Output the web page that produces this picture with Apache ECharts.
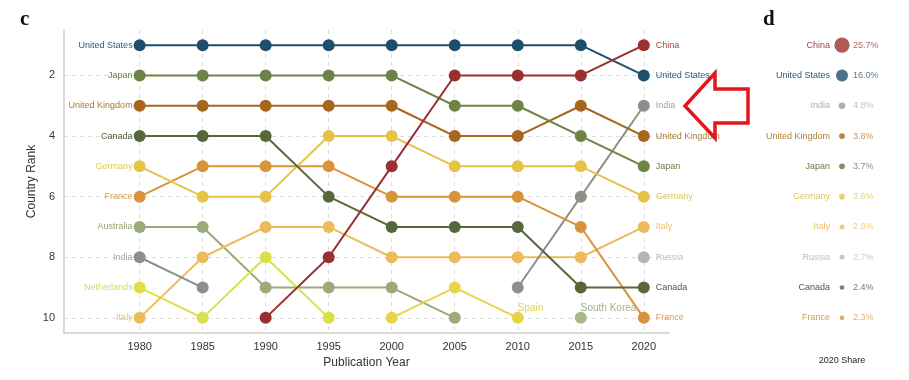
<!DOCTYPE html>
<html><head><meta charset="utf-8">
<script src="https://cdn.jsdelivr.net/npm/echarts@6/dist/echarts.min.js"></script>
<style>html,body{margin:0;padding:0;background:#fff}#c{width:909px;height:380px}</style>
</head><body><div id="c"></div>
<script>
// ---- data ----
const years = [1980, 1985, 1990, 1995, 2000, 2005, 2010, 2015, 2020];
const rankUnitedStates  = [1, 1, 1, 1, 1, 1, 1, 1, 2];
const rankJapan         = [2, 2, 2, 2, 2, 3, 3, 4, 5];
const rankUnitedKingdom = [3, 3, 3, 3, 3, 4, 4, 3, 4];
const rankCanada        = [4, 4, 4, 6, 7, 7, 7, 9, 9];
const rankGermany       = [5, 6, 6, 4, 4, 5, 5, 5, 6];
const rankFrance        = [6, 5, 5, 5, 6, 6, 6, 7, 10];
const rankAustralia     = [7, 7, 9, 9, 9, 10, null, null, null];
const rankIndia         = [8, 9, null, null, null, null, 9, 6, 3];
const rankNetherlands   = [9, 10, 8, 10, null, null, null, null, null];
const rankItaly         = [10, 8, 7, 7, 8, 8, 8, 8, 7];
const rankSpain         = [null, null, null, null, 10, 9, 10, null, null];
const rankSouthKorea    = [null, null, null, null, null, null, null, 10, null];
const rankRussia        = [null, null, null, null, null, null, null, null, 8];
const rankChina         = [null, null, 10, 8, 5, 2, 2, 2, 1];
const rankTicks = [2, 4, 6, 8, 10];

const shareCountries = ['China', 'United States', 'India', 'United Kingdom', 'Japan', 'Germany', 'Italy', 'Russia', 'Canada', 'France'];
const shareValues = [25.7, 16.0, 4.8, 3.8, 3.7, 3.6, 2.8, 2.7, 2.4, 2.3];

// ---- styles ----
const countries = [
  {name: 'Australia', ranks: rankAustralia, color: '#9aab78', text: '#93a172'},
  {name: 'Netherlands', ranks: rankNetherlands, color: '#dbe04a', text: '#d6dc4c'},
  {name: 'Spain', ranks: rankSpain, color: '#e8d44a', text: '#e6d258'},
  {name: 'South Korea', ranks: rankSouthKorea, color: '#a9b987', text: '#a3b386'},
  {name: 'Russia', ranks: rankRussia, color: '#b5b5b5', text: '#bdbdbd'},
  {name: 'Italy', ranks: rankItaly, color: '#ecbb5c', text: '#e9bf6a'},
  {name: 'India', ranks: rankIndia, color: '#8f8f8a', text: '#a3a3a3'},
  {name: 'France', ranks: rankFrance, color: '#d9933b', text: '#d69c4f'},
  {name: 'Germany', ranks: rankGermany, color: '#e3c447', text: '#e0c75e'},
  {name: 'Canada', ranks: rankCanada, color: '#56673b', text: '#4f5a3c'},
  {name: 'United Kingdom', ranks: rankUnitedKingdom, color: '#a5661d', text: '#a87a33'},
  {name: 'Japan', ranks: rankJapan, color: '#6e8446', text: '#687a4f'},
  {name: 'United States', ranks: rankUnitedStates, color: '#1d4f6d', text: '#2c5b78'},
  {name: 'China', ranks: rankChina, color: '#9b2f2f', text: '#a04444'}
];
const shareColors = ['#9b2f2f', '#1d4f6d', '#9a9a9a', '#a5661d', '#5f7340', '#e3c447', '#ecbb5c', '#b5b5b5', '#56673b', '#d9933b'];
const shareTextColors = ['#a04444', '#2c5b78', '#b0b0b0', '#b08030', '#687a4f', '#e0c75e', '#e9bf6a', '#bdbdbd', '#4f5a3c', '#d69c4f'];

const FONT = 'Liberation Sans, Arial, sans-serif';

const lineSeries = countries.map(c => {
  let first = c.ranks.findIndex(v => v != null);
  let last = -1;
  c.ranks.forEach((v, i) => { if (v != null) last = i; });
  const data = years.map((y, i) => {
    const r = c.ranks[i];
    const item = {value: [y, r == null ? null : r]};
    const lab = {show: true, formatter: c.name, color: c.text, fontSize: 9, fontFamily: FONT};
    if (r != null) {
      if (i === 0) {
        item.label = Object.assign(lab, {position: 'left', distance: 1});
      } else if (i === years.length - 1) {
        item.label = Object.assign(lab, {position: 'right', distance: 6});
      } else if (first !== 0 && last !== years.length - 1 && i === last) {
        item.label = Object.assign(lab, {position: 'inside', align: 'left', offset: [0, -10], fontSize: 10});
      }
    }
    return item;
  });
  return {
    type: 'line', name: c.name, data: data, xAxisIndex: 0, yAxisIndex: 0,
    symbol: 'circle', symbolSize: 12, showSymbol: true, showAllSymbol: true,
    connectNulls: false, z: 3,
    lineStyle: {color: c.color, width: 2},
    itemStyle: {color: c.color},
    label: {show: false},
    emphasis: {disabled: true},
    silent: true
  };
});

const gridStyle = {color: '#dcdcdc', width: 1, type: [4, 4]};
const gridSeries = {
  type: 'line', data: [], xAxisIndex: 0, yAxisIndex: 0, z: 1, silent: true,
  markLine: {
    z: 1, silent: true, symbol: 'none', animation: false,
    label: {show: false},
    lineStyle: gridStyle,
    emphasis: {disabled: true},
    data: years.map(y => ({xAxis: y})).concat(rankTicks.map(r => ({yAxis: r})))
  }
};

const shareSeries = {
  type: 'scatter', xAxisIndex: 1, yAxisIndex: 1, silent: true,
  data: shareCountries.map((c, i) => ({
    value: [0, i],
    symbolSize: 3 * Math.sqrt(shareValues[i]),
    itemStyle: {color: shareColors[i]},
    label: {
      show: true, position: 'inside', align: 'left', offset: [11, 0],
      formatter: shareValues[i].toFixed(1) + '%',
      color: shareTextColors[i], fontSize: 9, fontFamily: FONT
    }
  })),
  emphasis: {disabled: true}
};

const chart = echarts.init(document.getElementById('c'), null, {renderer: 'canvas'});
chart.setOption({
  animation: false,
  backgroundColor: '#ffffff',
  textStyle: {fontFamily: FONT},
  title: [
    {text: 'c', left: 15, top: 4, textStyle: {fontFamily: 'Liberation Serif, Times New Roman, serif', fontWeight: 'bold', fontSize: 21, color: '#111'}},
    {text: 'd', left: 758, top: 4, textStyle: {fontFamily: 'Liberation Serif, Times New Roman, serif', fontWeight: 'bold', fontSize: 21, color: '#111'}}
  ],
  grid: [
    {left: 64, top: 30, width: 605, height: 303},
    {left: 834, top: 30, width: 16, height: 303}
  ],
  xAxis: [
    {
      type: 'value', gridIndex: 0, min: 1974, max: 2022, interval: 1,
      name: 'Publication Year', nameLocation: 'middle', nameGap: 24, nameMoveOverlap: false,
      nameTextStyle: {fontSize: 12, color: '#333', fontFamily: FONT},
      axisLine: {show: true, lineStyle: {color: '#cfcfcf', width: 1.5}},
      axisTick: {show: false},
      splitLine: {show: false},
      axisLabel: {
        fontSize: 11, color: '#333', margin: 8, fontFamily: FONT,
        formatter: v => years.indexOf(v) >= 0 ? String(v) : ''
      }
    },
    {
      type: 'category', gridIndex: 1, data: ['2020 Share'],
      axisLine: {show: false}, axisTick: {show: false}, splitLine: {show: false},
      axisLabel: {fontSize: 9, color: '#222', margin: 23, fontFamily: FONT}
    }
  ],
  yAxis: [
    {
      type: 'value', gridIndex: 0, inverse: true, min: 0.5, max: 10.5, interval: 0.5,
      name: 'Country Rank', nameLocation: 'middle', nameGap: 26, nameRotate: 90, nameMoveOverlap: false,
      nameTextStyle: {fontSize: 12, color: '#333', fontFamily: FONT},
      axisLine: {show: true, lineStyle: {color: '#cfcfcf', width: 1.5}},
      axisTick: {show: false},
      splitLine: {show: false},
      axisLabel: {
        fontSize: 11, color: '#333', margin: 9, fontFamily: FONT,
        formatter: v => rankTicks.indexOf(v) >= 0 ? String(v) : ''
      }
    },
    {
      type: 'category', gridIndex: 1, data: shareCountries, inverse: true,
      axisLine: {show: false}, axisTick: {show: false}, splitLine: {show: false},
      axisLabel: {fontSize: 9, margin: 4, fontFamily: FONT, color: (v, i) => shareTextColors[i]}
    }
  ],
  series: [gridSeries].concat(lineSeries).concat([shareSeries]),
  graphic: [{
    type: 'polygon', z: 100, silent: true,
    shape: {points: [[685, 106], [715, 73], [715, 89], [748, 89], [748, 123], [715, 123], [715, 138]]},
    style: {fill: 'none', stroke: '#e3161c', lineWidth: 3.5, lineJoin: 'miter'}
  }]
});
</script>
</body></html>
